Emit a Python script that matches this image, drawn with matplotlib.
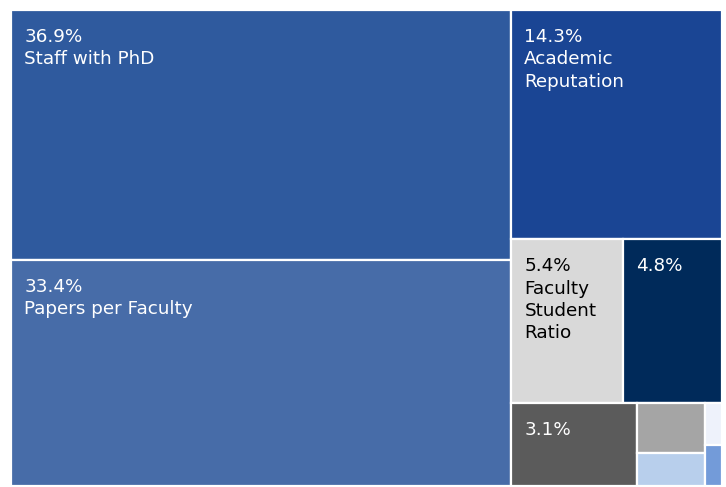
import numpy as np
import matplotlib
matplotlib.use('Agg')
from matplotlib import pyplot as plt
from matplotlib.patches import Rectangle

# data (share of total score, %)
values = [36.9, 33.4, 14.3, 5.4, 4.8, 3.1, 1.0, 0.67, 0.22, 0.21]
names = ['Staff with PhD', 'Papers per Faculty', 'Academic\nReputation',
         'Faculty\nStudent\nRatio', '', '', '', '', '', '']
show_label = [True, True, True, True, True, True, False, False, False, False]
colors = ['#2f5a9e', '#476ca8', '#1a4594', '#d9d9d9', '#002a5a',
          '#5b5b5b', '#a5a5a5', '#b8cfec', '#eef2fb', '#739bd9']
text_colors = ['white', 'white', 'white', 'black', 'white', 'white',
               'black', 'black', 'black', 'black']

W, H = 711.0, 476.0  # axes size in pixels


def squarify(vals, x0, y0, x1, y1, ratio=(1 + 5 ** 0.5) / 2):
    # d3-style squarified layout, y grows downwards
    rects = [None] * len(vals)
    value = sum(vals)
    i0 = i1 = 0
    n = len(vals)
    while i0 < n:
        dx, dy = x1 - x0, y1 - y0
        s = vals[i1]; i1 += 1
        mn = mx = s
        alpha = max(dy / dx, dx / dy) / (value * ratio)
        beta = s * s * alpha
        min_ratio = max(mx / beta, beta / mn)
        while i1 < n:
            v = vals[i1]
            s2 = s + v
            mn2, mx2 = min(mn, v), max(mx, v)
            beta = s2 * s2 * alpha
            r = max(mx2 / beta, beta / mn2)
            if r > min_ratio:
                break
            s, mn, mx, min_ratio = s2, mn2, mx2, r
            i1 += 1
        row = list(range(i0, i1))
        if dx < dy:  # dice: horizontal strip on top
            h = dy * s / value
            xx = x0
            for k in row:
                w = dx * vals[k] / s
                rects[k] = (xx, y0, w, h)
                xx += w
            y0 += h
        else:  # slice: vertical strip on left
            w = dx * s / value
            yy = y0
            for k in row:
                h = dy * vals[k] / s
                rects[k] = (x0, yy, w, h)
                yy += h
            x0 += w
        value -= s
        i0 = i1
    return rects


fig = plt.figure(figsize=(7.26, 4.87), dpi=100)
ax = fig.add_axes([11 / 726, 1 / 487, W / 726, H / 487])
ax.set_xlim(0, W)
ax.set_ylim(H, 0)
ax.axis('off')

rects = squarify(values, 0, 0, W, H)
for i, (x, y, w, h) in enumerate(rects):
    ax.add_patch(Rectangle((x, y), w, h, facecolor=colors[i],
                           edgecolor='white', linewidth=1.6))
    if show_label[i]:
        txt = '%.1f%%' % values[i]
        if names[i]:
            txt += '\n' + names[i]
        ax.text(x + 13.5, y + 18, txt, color=text_colors[i], fontsize=13.2,
                va='top', ha='left', linespacing=1.31, family='DejaVu Sans')

fig.savefig('out.png', dpi=100)
